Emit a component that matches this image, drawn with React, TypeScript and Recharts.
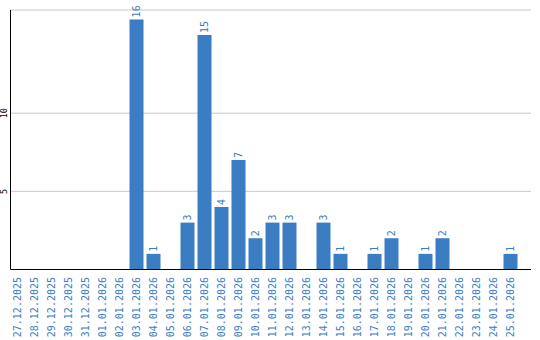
import { BarChart, Bar, XAxis, YAxis, CartesianGrid, LabelList } from 'recharts'

const DATES = [
  '27.12.2025', '28.12.2025', '29.12.2025', '30.12.2025', '31.12.2025',
  '01.01.2026', '02.01.2026', '03.01.2026', '04.01.2026', '05.01.2026',
  '06.01.2026', '07.01.2026', '08.01.2026', '09.01.2026', '10.01.2026',
  '11.01.2026', '12.01.2026', '13.01.2026', '14.01.2026', '15.01.2026',
  '16.01.2026', '17.01.2026', '18.01.2026', '19.01.2026', '20.01.2026',
  '21.01.2026', '22.01.2026', '23.01.2026', '24.01.2026', '25.01.2026',
]
const COUNTS = [0, 0, 0, 0, 0, 0, 0, 16, 1, 0, 3, 15, 4, 7, 2, 3, 3, 0, 3, 1, 0, 1, 2, 0, 1, 2, 0, 0, 0, 1]
const Y_TICKS = [5, 10]

const BLUE = '#3a7dc3'
const FONT = '"DejaVu Sans Mono", monospace'

const data = DATES.map((d, i) => ({ date: d, count: COUNTS[i] }))

function DateTick(props: any) {
  const { x, payload } = props
  return (
    <text
      x={0}
      y={0}
      transform={`translate(${x},277) rotate(-90)`}
      textAnchor="end"
      dominantBaseline="central"
      fill={BLUE}
      fontSize={10}
      fontFamily={FONT}
    >
      {payload.value}
    </text>
  )
}

function CountTick(props: any) {
  const { y, payload } = props
  return (
    <text
      x={0}
      y={0}
      transform={`translate(4,${y}) rotate(-90)`}
      textAnchor="middle"
      dominantBaseline="central"
      fill="#000"
      fontSize={8.5}
      fontFamily={FONT}
    >
      {payload.value}
    </text>
  )
}

function ValueLabel(props: any) {
  const { x, y, width, value } = props
  if (!value) return null
  return (
    <text
      x={0}
      y={0}
      transform={`translate(${x + width / 2},${y - 2}) rotate(-90)`}
      textAnchor="start"
      dominantBaseline="central"
      fill={BLUE}
      fontSize={10}
      fontFamily={FONT}
    >
      {value}
    </text>
  )
}

export default function App() {
  return (
    <div style={{ position: 'absolute', left: 0, top: 0, background: '#fff' }}>
      <BarChart width={540} height={340} data={data} margin={{ top: 10, right: 9, left: 0, bottom: 0 }}>
        <CartesianGrid vertical={false} stroke="#c8c8c8" />
        <XAxis
          dataKey="date"
          interval={0}
          height={70.5}
          padding={{ left: -2, right: 12.5 }}
          axisLine={{ stroke: '#000' }}
          tickLine={false}
          tick={<DateTick />}
        />
        <YAxis
          width={10.5}
          domain={[0, 16.6]}
          ticks={Y_TICKS}
          axisLine={{ stroke: '#000' }}
          tickLine={false}
          tick={<CountTick />}
        />
        <Bar dataKey="count" fill={BLUE} barSize={14} isAnimationActive={false}>
          <LabelList dataKey="count" content={<ValueLabel />} />
        </Bar>
      </BarChart>
    </div>
  )
}
